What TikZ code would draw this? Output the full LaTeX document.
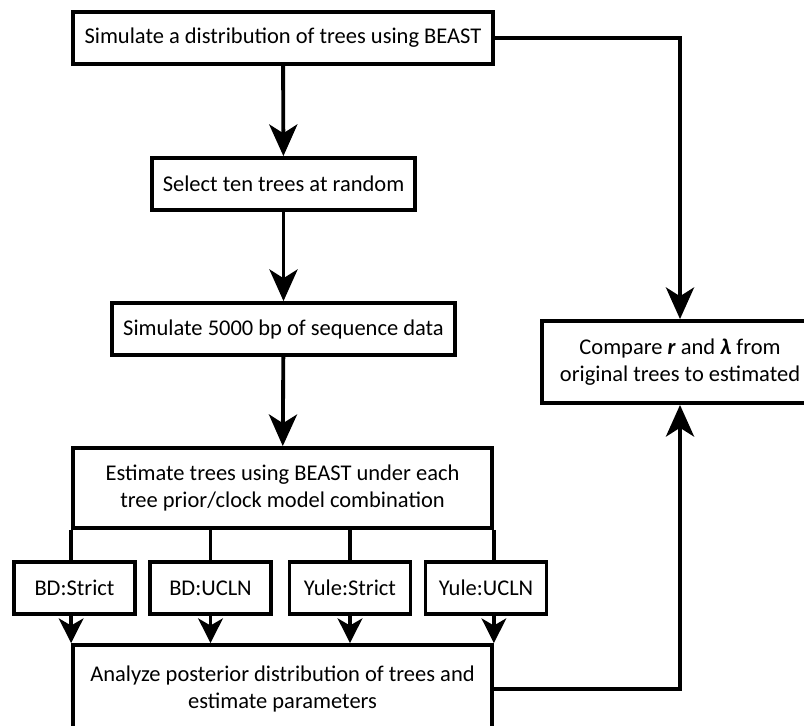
\documentclass[tikz,border=0pt]{standalone}
\usepackage{fontspec}
\setmainfont{Carlito}
\usepackage{tikz}
\usetikzlibrary{positioning,arrows.meta}

\begin{document}
\begin{tikzpicture}[x=0.02cm,y=-0.02cm,
  box/.style={draw,line width=2.2pt,rectangle,align=center,inner sep=0pt,
    font=\fontsize{12.8}{15.4}\selectfont},
  model/.style={box,minimum width=2.42cm,minimum height=1.04cm},
  wire/.style={line width=2.2pt},
  arr/.style={wire,-{Stealth[length=18pt,width=16pt,inset=5pt]}},
  sarr/.style={wire,-{Stealth[length=14pt,width=14pt,inset=4pt]}}]
\clip (0,0) rectangle (804,725);
%main column
\node[box,minimum width=8.4cm,minimum height=1.04cm] (sim) at (283,38)
  {Simulate a distribution of trees using BEAST};
\node[box,minimum width=5.26cm,minimum height=1.04cm] (sel) at (283.5,184)
  {Select ten trees at random};
\node[box,minimum width=6.86cm,minimum height=1.04cm] (seq) at (283.5,329)
  {Simulate 5000 bp of sequence data};
\node[box,minimum width=8.38cm,minimum height=1.6cm] (est) at (282.5,488)
  {Estimate trees using BEAST under each\\tree prior/clock model combination};
%models
\node[model] (bd_strict) at (74.5,588) {BD:Strict};
\node[model] (bd_ucln) at (210.5,588) {BD:UCLN};
\node[model] (yule_strict) at (350,588) {Yule:Strict};
\node[model] (yule_ucln) at (486,588) {Yule:UCLN};
\node[box,minimum width=8.38cm,minimum height=1.76cm] (ana) at (282.5,689)
  {Analyze posterior distribution of trees and\\estimate parameters};
\node[box,minimum width=5.52cm,minimum height=1.64cm] (cmp) at (680,362)
  {Compare \textbf{\textit{r}} and \textbf{\textit{λ}} from\\original trees to estimated};

\draw[arr] (sim) -- (sel);
\draw[arr] (sel) -- (seq);
\draw[arr] (seq) -- (est);
\draw[wire] (est.south west) -- (est.south west |- bd_strict.north);
\draw[wire] (bd_ucln.north |- est.south) -- (bd_ucln.north);
\draw[wire] (yule_strict.north |- est.south) -- (yule_strict.north);
\draw[wire] (est.south east) -- (est.south east |- yule_ucln.north);
\draw[sarr] (bd_strict.south -| est.south west) -- (ana.north west);
\draw[sarr] (bd_ucln.south) -- (bd_ucln.south |- ana.north);
\draw[sarr] (yule_strict.south) -- (yule_strict.south |- ana.north);
\draw[sarr] (yule_ucln.south -| est.south east) -- (ana.north east);
\draw[arr] (sim.east) -| (cmp.north);
\draw[arr] (ana.east) -| (cmp.south);
\end{tikzpicture}
\end{document}
